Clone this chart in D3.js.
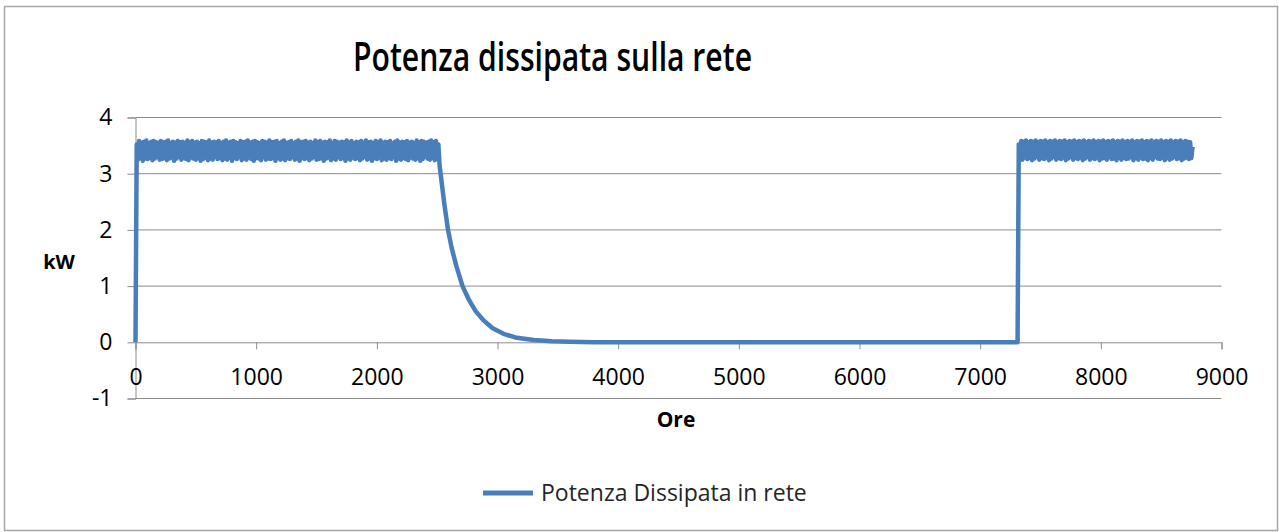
<!DOCTYPE html>
<html>
<head>
<meta charset="utf-8">
<script src="https://cdn.jsdelivr.net/npm/d3@7"></script>
<style>
  body { margin: 0; background: #fff; }
  text { font-family: "Open Sans", "Liberation Sans", sans-serif; fill: #000; }
</style>
</head>
<body>
<div id="chart"></div>
<script>
// Hourly power (kW), sampled every 10 hours across the noisy plateaus
const bandStep = 10;
const band1Start = 10;
const band1 = [
  3.52, 3.25, 3.58, 3.28, 3.55, 3.23, 3.57, 3.27, 3.59, 3.26,
  3.54, 3.29, 3.57, 3.24, 3.58, 3.27, 3.56, 3.30, 3.55, 3.25,
  3.58, 3.26, 3.56, 3.28, 3.57, 3.24, 3.59, 3.27, 3.54, 3.29,
  3.57, 3.23, 3.55, 3.27, 3.58, 3.30, 3.56, 3.25, 3.57, 3.28,
  3.55, 3.26, 3.59, 3.24, 3.56, 3.29, 3.58, 3.27, 3.55, 3.25,
  3.57, 3.28, 3.54, 3.23, 3.58, 3.26, 3.57, 3.29, 3.56, 3.24,
  3.59, 3.27, 3.55, 3.25, 3.57, 3.30, 3.56, 3.26, 3.58, 3.28,
  3.54, 3.24, 3.57, 3.27, 3.59, 3.25, 3.55, 3.29, 3.57, 3.23,
  3.58, 3.28, 3.56, 3.26, 3.54, 3.30, 3.58, 3.24, 3.56, 3.27,
  3.57, 3.25, 3.59, 3.29, 3.55, 3.26, 3.57, 3.23, 3.58, 3.28,
  3.56, 3.27, 3.54, 3.24, 3.58, 3.30, 3.57, 3.25, 3.55, 3.27,
  3.59, 3.26, 3.56, 3.28, 3.57, 3.23, 3.58, 3.29, 3.54, 3.25,
  3.57, 3.27, 3.59, 3.24, 3.55, 3.28, 3.56, 3.26, 3.58, 3.30,
  3.54, 3.25, 3.57, 3.27, 3.59, 3.23, 3.56, 3.29, 3.57, 3.26,
  3.58, 3.28, 3.55, 3.24, 3.57, 3.27, 3.54, 3.30, 3.59, 3.25,
  3.56, 3.26, 3.58, 3.28, 3.55, 3.23, 3.57, 3.27, 3.56, 3.29,
  3.59, 3.24, 3.54, 3.27, 3.58, 3.25, 3.57, 3.30, 3.55, 3.26,
  3.57, 3.28, 3.56, 3.23, 3.59, 3.27, 3.55, 3.25, 3.58, 3.29,
  3.54, 3.26, 3.57, 3.28, 3.56, 3.24, 3.58, 3.27, 3.55, 3.30,
  3.59, 3.25, 3.56, 3.27, 3.57, 3.23, 3.54, 3.28, 3.58, 3.26,
  3.56, 3.29, 3.59, 3.24, 3.55, 3.27, 3.57, 3.25, 3.56, 3.28,
  3.58, 3.26, 3.54, 3.30, 3.57, 3.23, 3.59, 3.27, 3.55, 3.25,
  3.57, 3.28, 3.56, 3.26, 3.58, 3.24, 3.55, 3.29, 3.57, 3.27,
  3.54, 3.25, 3.59, 3.28, 3.56, 3.23, 3.58, 3.26, 3.57, 3.30,
  3.55, 3.27, 3.57, 3.25, 3.59, 3.28, 3.56, 3.24, 3.58, 3.26,
  3.52
];
const decayHours = [2520, 2540, 2560, 2590, 2620, 2660, 2710, 2760, 2820, 2880, 2960, 3050, 3160, 3300, 3450, 3600, 3800, 4000, 7310];
const decayValues = [3.15, 2.80, 2.45, 2.00, 1.68, 1.35, 1.00, 0.77, 0.55, 0.40, 0.25, 0.15, 0.08, 0.04, 0.02, 0.01, 0.003, 0, 0];
const band2Start = 7320;
const band2 = [
  3.52, 3.27, 3.58, 3.25, 3.57, 3.29, 3.59, 3.26, 3.56, 3.28,
  3.58, 3.24, 3.57, 3.27, 3.59, 3.30, 3.56, 3.25, 3.58, 3.28,
  3.57, 3.26, 3.59, 3.29, 3.56, 3.24, 3.58, 3.27, 3.57, 3.30,
  3.59, 3.25, 3.56, 3.28, 3.58, 3.26, 3.57, 3.29, 3.59, 3.24,
  3.56, 3.27, 3.58, 3.30, 3.57, 3.25, 3.59, 3.28, 3.56, 3.26,
  3.58, 3.29, 3.57, 3.24, 3.59, 3.27, 3.56, 3.30, 3.58, 3.25,
  3.57, 3.28, 3.59, 3.26, 3.56, 3.29, 3.58, 3.24, 3.57, 3.27,
  3.59, 3.28, 3.56, 3.25, 3.58, 3.30, 3.57, 3.26, 3.59, 3.27,
  3.56, 3.24, 3.58, 3.29, 3.57, 3.25, 3.59, 3.28, 3.56, 3.26,
  3.58, 3.27, 3.57, 3.30, 3.59, 3.24, 3.56, 3.28, 3.58, 3.25,
  3.57, 3.29, 3.59, 3.26, 3.56, 3.27, 3.58, 3.24, 3.57, 3.28,
  3.59, 3.25, 3.56, 3.30, 3.58, 3.27, 3.57, 3.26, 3.59, 3.29,
  3.56, 3.24, 3.58, 3.28, 3.57, 3.25, 3.59, 3.27, 3.56, 3.30,
  3.58, 3.26, 3.57, 3.28, 3.59, 3.24, 3.56, 3.27, 3.58, 3.29,
  3.57, 3.26, 3.56, 3.28, 3.48
];
const xTicks = [0, 1000, 2000, 3000, 4000, 5000, 6000, 7000, 8000, 9000];
const yTicks = [-1, 0, 1, 2, 3, 4];

// Build the series: start at 0, plateau, decay, zero, plateau
const series = [[0, 0]];
band1.forEach((v, i) => series.push([band1Start + i * bandStep, v]));
decayHours.forEach((h, i) => series.push([h, decayValues[i]]));
band2.forEach((v, i) => series.push([band2Start + i * bandStep, v]));

const W = 1279, H = 532;
const svg = d3.select("#chart").append("svg")
    .attr("width", W)
    .attr("height", H);

// Chart border
svg.append("rect")
    .attr("x", 4.5).attr("y", 6.5)
    .attr("width", 1273).attr("height", 524)
    .attr("fill", "#fff")
    .attr("stroke", "#a6a6a6")
    .attr("stroke-width", 1.5);

const xScale = d3.scaleLinear().domain([0, 9000]).range([135.5, 1221.5]);
const yScale = d3.scaleLinear().domain([-1, 4]).range([398.5, 117.5]);

// Gridlines
svg.append("g").selectAll("line")
    .data(yTicks.filter(d => d !== 0))
    .enter().append("line")
    .attr("x1", xScale(0)).attr("x2", xScale(9000))
    .attr("y1", d => yScale(d)).attr("y2", d => yScale(d))
    .attr("stroke", "#8c8c8c")
    .attr("stroke-width", 1);

// Y axis
const yAxis = svg.append("g")
    .attr("transform", "translate(" + xScale(0) + ",0)")
    .call(d3.axisLeft(yScale).tickValues(yTicks).tickSize(8).tickPadding(15).tickFormat(d => String(d)));
yAxis.select(".domain").attr("stroke", "#8c8c8c");
yAxis.selectAll(".tick line").attr("stroke", "#8c8c8c");
yAxis.selectAll("text").style("font-size", "23px").attr("fill", "#000");

// X axis at y = 0
const xAxis = svg.append("g")
    .attr("transform", "translate(0," + yScale(0) + ")")
    .call(d3.axisBottom(xScale).tickValues(xTicks).tickSize(7).tickPadding(19).tickFormat(d => String(d)));
xAxis.select(".domain").attr("stroke", "#8c8c8c");
xAxis.selectAll(".tick line").attr("stroke", "#8c8c8c");
xAxis.selectAll("text").style("font-size", "23px").attr("fill", "#000");

// Series line
const line = d3.line()
    .x(d => xScale(d[0]))
    .y(d => yScale(d[1]));

svg.append("path")
    .datum(series)
    .attr("fill", "none")
    .attr("stroke", "#4a7ebb")
    .attr("stroke-width", 4.5)
    .attr("stroke-linejoin", "round")
    .attr("d", line);

// Title
svg.append("text")
    .attr("x", 353).attr("y", 71)
    .attr("textLength", 399)
    .attr("lengthAdjust", "spacingAndGlyphs")
    .style("font-size", "40px")
    .style("font-weight", "600")
    .text("Potenza dissipata sulla rete");

// Axis titles
svg.append("text")
    .attr("x", 59).attr("y", 269)
    .attr("text-anchor", "middle")
    .style("font-size", "20px")
    .style("font-weight", "bold")
    .text("kW");

svg.append("text")
    .attr("x", 676).attr("y", 427)
    .attr("text-anchor", "middle")
    .style("font-size", "21px")
    .style("font-weight", "bold")
    .text("Ore");

// Legend
svg.append("line")
    .attr("x1", 483).attr("x2", 533)
    .attr("y1", 493).attr("y2", 493)
    .attr("stroke", "#4a7ebb")
    .attr("stroke-width", 5);

svg.append("text")
    .attr("x", 541).attr("y", 501)
    .style("font-size", "23px")
    .style("fill", "#262626")
    .text("Potenza Dissipata in rete");
</script>
</body>
</html>
